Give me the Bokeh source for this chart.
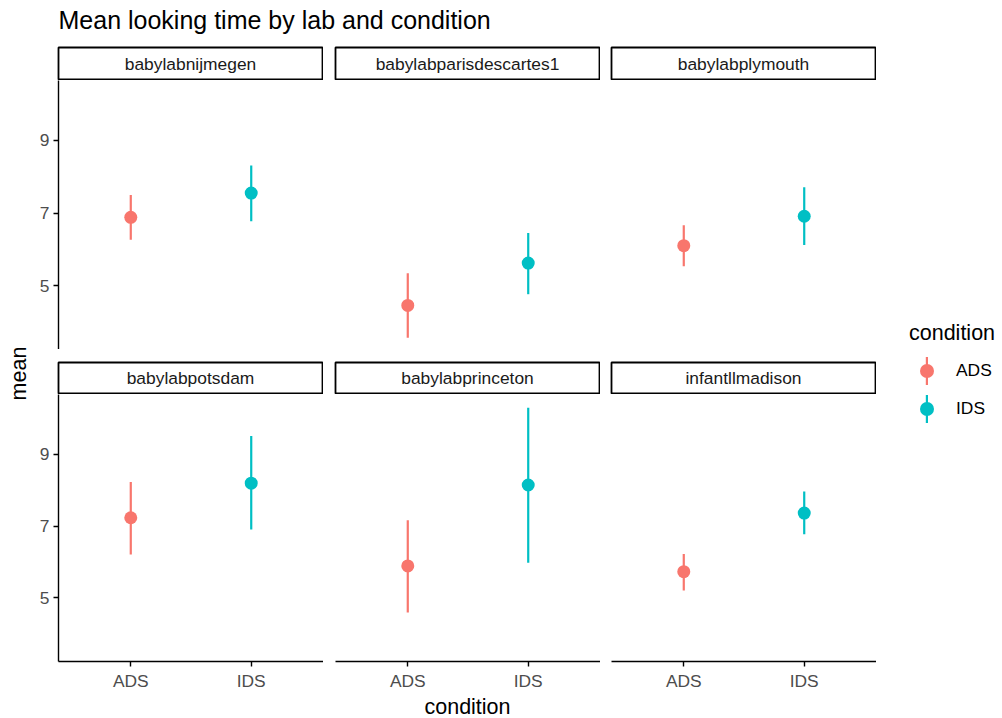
import math
from bokeh.plotting import figure
from bokeh.models import (ColumnDataSource, FactorRange, Range1d, FixedTicker,
                          Label, Legend, LegendItem)
from bokeh.layouts import column, row
from bokeh.embed import file_html
from bokeh.resources import INLINE

# ---------------- data ----------------
labs = ["babylabnijmegen", "babylabparisdescartes1", "babylabplymouth",
        "babylabpotsdam", "babylabprinceton", "infantllmadison"]
conditions = ["ADS", "IDS"]
ads_mean = [6.88, 4.45, 6.10, 7.23, 5.89, 5.73]
ads_lo = [6.26, 3.56, 5.53, 6.21, 4.60, 5.21]
ads_hi = [7.50, 5.34, 6.66, 8.22, 7.16, 6.22]
ids_mean = [7.55, 5.62, 6.91, 8.19, 8.14, 7.36]
ids_lo = [6.77, 4.76, 6.12, 6.90, 5.98, 6.77]
ids_hi = [8.31, 6.45, 7.71, 9.50, 10.29, 7.96]
y_ticks = [5, 7, 9]
colors = ["#F8766D", "#00BFC4"]
title_text = "Mean looking time by lab and condition"
x_title = "condition"
y_title = "mean"
legend_title = "condition"

# ---------------- style ----------------
FONT = "Liberation Sans"
SMALL = "17.4px"
MID = "21.5px"
FRAME_W = 265
PANEL_H = 269
BOTTOM_B = 30
COL_LEFT = [26, 12, 11]
YLAB_W = 32
LEG_W = 124
TOTAL_W = YLAB_W + sum(COL_LEFT) + 3 * FRAME_W + LEG_W
TITLE_H = 46
STRIP1_H = 34
STRIP2_H = 45
XLAB_H = 25
GRID_H = STRIP1_H + PANEL_H + STRIP2_H + PANEL_H + BOTTOM_B

y_range = Range1d(3.235, 10.655)


def blank_fig(w, h, xr, yr, l=0, r=0, t=0, b=0):
    f = figure(width=w, height=h, x_range=xr, y_range=yr,
               toolbar_location=None, output_backend="svg",
               x_axis_location=None, y_axis_location=None,
               min_border_left=l, min_border_right=r,
               min_border_top=t, min_border_bottom=b)
    f.grid.visible = False
    f.outline_line_color = None
    f.background_fill_color = "white"
    f.border_fill_color = "white"
    return f


def strip_fig(name, left, h, top_pad):
    f = blank_fig(left + FRAME_W, h, Range1d(0, 1), Range1d(0, 1),
                  l=left, r=1, t=top_pad, b=1)
    f.outline_line_color = "black"
    f.outline_line_width = 1.8
    f.add_layout(Label(x=0.5, y=0.5, text=name, text_align="center",
                       text_baseline="middle", text_font=FONT,
                       text_font_size=SMALL, text_color="#1A1A1A"))
    return f


def style_axis(ax):
    ax.axis_line_color = "black"
    ax.axis_line_width = 1.4
    ax.major_tick_line_color = "black"
    ax.major_tick_line_width = 1.4
    ax.major_tick_out = 5
    ax.major_tick_in = 0
    ax.minor_tick_out = 0
    ax.minor_tick_in = 0
    ax.major_label_text_font = FONT
    ax.major_label_text_font_size = SMALL
    ax.major_label_text_color = "#4D4D4D"
    ax.major_label_standoff = 4


def panel_fig(i, left, bottom_row, show_y):
    h = PANEL_H + (BOTTOM_B if bottom_row else 0)
    p = figure(width=left + FRAME_W, height=h,
               x_range=FactorRange(factors=conditions, range_padding=0.1,
                                   range_padding_units="absolute"),
               y_range=y_range, toolbar_location=None, output_backend="svg",
               x_axis_location="below" if bottom_row else None,
               y_axis_location="left" if show_y else None,
               min_border_left=left, min_border_right=0, min_border_top=0,
               min_border_bottom=BOTTOM_B if bottom_row else 0)
    p.grid.visible = False
    p.outline_line_color = None
    p.background_fill_color = "white"
    p.border_fill_color = "white"
    for ax in p.axis:
        style_axis(ax)
    if show_y:
        p.yaxis.ticker = FixedTicker(ticks=y_ticks)
    src = ColumnDataSource(dict(condition=conditions,
                                mean=[ads_mean[i], ids_mean[i]],
                                lo=[ads_lo[i], ids_lo[i]],
                                hi=[ads_hi[i], ids_hi[i]],
                                color=colors))
    p.segment(x0="condition", y0="lo", x1="condition", y1="hi", source=src,
              line_color="color", line_width=2.2)
    p.scatter(x="condition", y="mean", source=src, size=13,
              fill_color="color", line_color=None)
    return p


strips1 = [strip_fig(labs[j], COL_LEFT[j], STRIP1_H, 1) for j in range(3)]
panels1 = [panel_fig(j, COL_LEFT[j], False, j == 0) for j in range(3)]
strips2 = [strip_fig(labs[3 + j], COL_LEFT[j], STRIP2_H, 13) for j in range(3)]
panels2 = [panel_fig(3 + j, COL_LEFT[j], True, j == 0) for j in range(3)]

grid = column(row(*strips1), row(*panels1), row(*strips2), row(*panels2))

# title
title_fig = blank_fig(TOTAL_W, TITLE_H, Range1d(0, TOTAL_W), Range1d(0, TITLE_H))
title_fig.add_layout(Label(x=YLAB_W + COL_LEFT[0], y=TITLE_H - 19.8, text=title_text,
                           text_align="left", text_baseline="middle",
                           text_font=FONT, text_font_size="25px",
                           text_color="black"))

# y axis title
ylab_fig = blank_fig(YLAB_W, GRID_H, Range1d(0, YLAB_W), Range1d(0, GRID_H))
ylab_fig.add_layout(Label(x=18, y=GRID_H - (373 - TITLE_H), text=y_title,
                          angle=math.pi / 2, text_align="center",
                          text_baseline="middle", text_font=FONT,
                          text_font_size=MID, text_color="black"))

# legend (proxy renderers sit outside the legend figure's visible range)
leg_fig = blank_fig(LEG_W, GRID_H, Range1d(0, 1), Range1d(0, 1))
leg_src = ColumnDataSource(dict(condition=conditions,
                                mean=[ads_mean[0], ids_mean[0]],
                                color=colors))
r_bar = leg_fig.vbar(x="mean", top="mean", width=0.1, source=leg_src,
                     fill_color="color", line_color=None)
r_pt = leg_fig.scatter(x="mean", y="mean", source=leg_src, marker="circle",
                       size=13, fill_color="color", line_color=None)

# key lines (thin vertical bars) drawn first, underneath the key points
legend_lines = Legend(items=[LegendItem(label="", renderers=[r_bar], index=k)
                             for k in range(len(conditions))],
                      location=(49, 267), glyph_width=3, glyph_height=35,
                      label_height=35, label_width=0, label_standoff=0,
                      spacing=3, padding=0, margin=0, border_line_color=None,
                      background_fill_alpha=0, label_text_font_size="1px")
leg_fig.add_layout(legend_lines, "center")

legend = Legend(items=[LegendItem(label=c, renderers=[r_pt], index=k)
                       for k, c in enumerate(conditions)],
                location=(33, 267), title=legend_title,
                title_text_font=FONT, title_text_font_size=MID,
                title_text_font_style="normal", title_text_color="black",
                title_standoff=7,
                label_text_font=FONT, label_text_font_size=SMALL,
                label_text_color="black", label_standoff=12,
                glyph_width=35, glyph_height=35, label_height=35, spacing=3,
                padding=0, margin=0, border_line_color=None,
                background_fill_alpha=0)
leg_fig.add_layout(legend, "center")

# x axis title
xlab_fig = blank_fig(TOTAL_W, XLAB_H, Range1d(0, TOTAL_W), Range1d(0, XLAB_H))
xlab_fig.add_layout(Label(x=YLAB_W + COL_LEFT[0] + (FRAME_W * 3 + COL_LEFT[1] + COL_LEFT[2]) / 2,
                          y=12, text=x_title, text_align="center",
                          text_baseline="middle", text_font=FONT,
                          text_font_size=MID, text_color="black"))

layout = column(title_fig, row(ylab_fig, grid, leg_fig), xlab_fig)

open("out.html", "w").write(file_html(layout, INLINE))
